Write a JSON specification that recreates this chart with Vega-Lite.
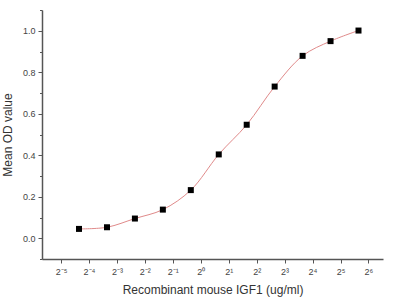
{
  "$schema": "https://vega.github.io/schema/vega-lite/v6.json",
  "width": 341,
  "height": 249,
  "autosize": "none",
  "padding": {"left": 42, "top": 10, "right": 25, "bottom": 42},
  "background": "white",
  "config": {
    "view": {"stroke": null},
    "font": "Liberation Sans",
    "axis": {"grid": false, "domainColor": "#555555", "tickColor": "#555555", "labelColor": "#444444", "titleColor": "#333333", "labelFont": "Liberation Sans", "titleFont": "Liberation Sans", "titleFontWeight": "normal"}
  },
  "data": {
    "values": [
      {"conc": 0.0488, "od": 0.045},
      {"conc": 0.0977, "od": 0.053},
      {"conc": 0.1953, "od": 0.095},
      {"conc": 0.3906, "od": 0.138},
      {"conc": 0.78125, "od": 0.232},
      {"conc": 1.5625, "od": 0.404},
      {"conc": 3.125, "od": 0.547},
      {"conc": 6.25, "od": 0.731},
      {"conc": 12.5, "od": 0.879},
      {"conc": 25, "od": 0.95},
      {"conc": 50, "od": 1.001}
    ]
  },
  "resolve": {"axis": {"y": "independent", "x": "independent"}},
  "layer": [
    {
      "mark": {"type": "line", "interpolate": "catmull-rom", "color": "#e08a8a", "strokeWidth": 1},
      "encoding": {
        "x": {"field": "conc", "type": "quantitative", "scale": {"type": "log", "base": 2, "domain": [0.0195, 91.8], "nice": false},
          "axis": null},
        "y": {"field": "od", "type": "quantitative", "scale": {"domain": [-0.1, 1.1], "nice": false, "zero": false},
          "axis": {"orient": "left", "values": [-0.1, 0.1, 0.3, 0.5, 0.7, 0.9, 1.1], "labels": false, "domain": false, "tickSize": 2.5, "title": null}}
      }
    },
    {
      "mark": {"type": "square", "size": 36, "color": "#000000", "filled": true, "opacity": 1},
      "encoding": {
        "x": {"field": "conc", "type": "quantitative", "scale": {"type": "log", "base": 2, "domain": [0.0195, 91.8], "nice": false},
          "axis": {"orient": "bottom", "values": [0.03125, 0.0625, 0.125, 0.25, 0.5, 1, 2, 4, 8, 16, 32, 64],
            "labelExpr": "'2' + ['⁻⁵','⁻⁴','⁻³','⁻²','⁻¹','⁰','¹','²','³','⁴','⁵','⁶'][round(log(datum.value)/LN2)+5]",
            "labelFontSize": 9, "tickSize": 4, "labelPadding": 4, "domainWidth": 1.5,
            "title": "Recombinant mouse IGF1 (ug/ml)", "titleFontSize": 12, "titlePadding": 8}},
        "y": {"field": "od", "type": "quantitative", "scale": {"domain": [-0.1, 1.1], "nice": false, "zero": false},
          "axis": {"orient": "left", "values": [0, 0.2, 0.4, 0.6, 0.8, 1.0], "format": ".1f", "labelFontSize": 9, "tickSize": 4, "labelPadding": 3, "domainWidth": 1.5,
            "title": "Mean OD value", "titleFontSize": 12, "titlePadding": 8}}
      }
    }
  ]
}
